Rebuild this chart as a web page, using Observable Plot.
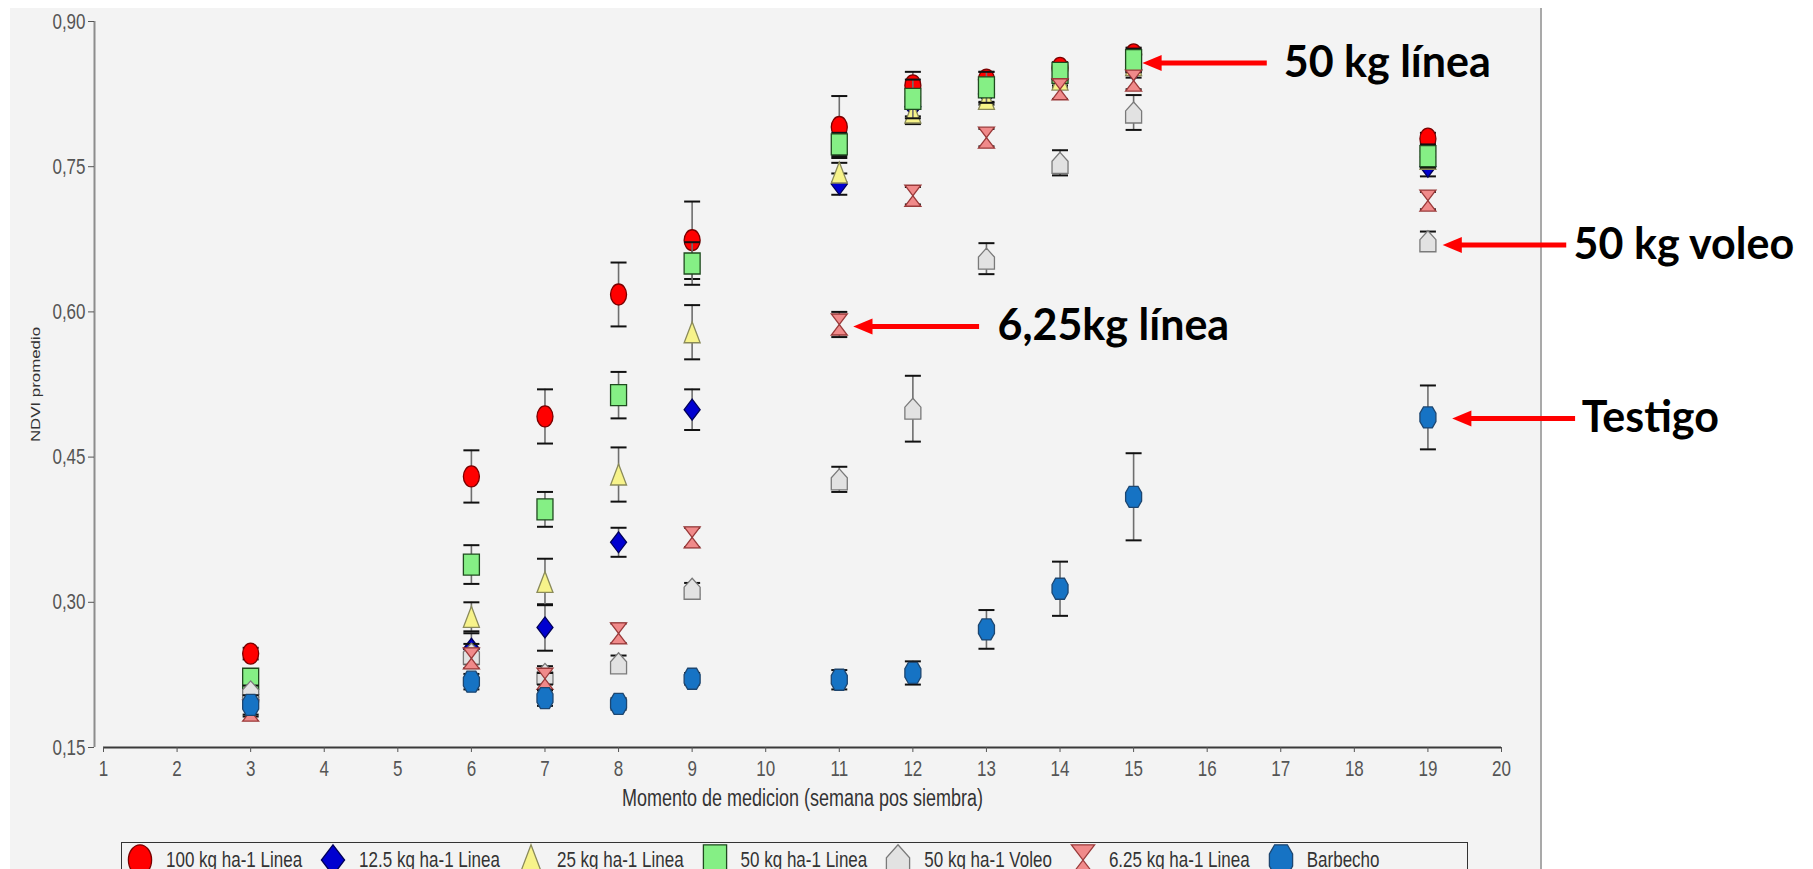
<!DOCTYPE html>
<html><head><meta charset="utf-8">
<script src="https://cdn.jsdelivr.net/npm/d3@7"></script>
<script src="https://cdn.jsdelivr.net/npm/@observablehq/plot@0.6"></script>
<style>
html,body{margin:0;padding:0;width:1813px;height:869px;overflow:hidden;background:#fff;}
#bg{position:absolute;left:10px;top:8px;width:1530px;height:900px;background:#f3f3f3;border-right:2px solid #a9a9a9;}
#chart{position:absolute;left:0;top:0;}
#legend{position:absolute;left:121px;top:842px;height:44px;width:1347px;border:1.5px solid #333;display:flex;align-items:flex-start;padding-left:5px;box-sizing:border-box;
  font-family:'Liberation Sans',Arial,sans-serif;font-size:17px;color:#333;}
#legend .item{display:flex;align-items:center;height:34px;margin-right:18px;}
#legend .item span{margin-left:13px;white-space:nowrap;display:inline-block;transform:scaleY(1.32);}
</style></head>
<body>
<div id="bg"></div>
<div id="chart"></div>
<div id="legend"></div>
<script>
// ---------- data ----------
const weeks = [3, 6, 7, 8, 9, 11, 12, 13, 14, 15, 19];
const xTicks = [1,2,3,4,5,6,7,8,9,10,11,12,13,14,15,16,17,18,19,20];
const yTicks = [0.15, 0.30, 0.45, 0.60, 0.75, 0.90];
const seriesNames = ["100 kg ha-1 Linea","12.5 kg ha-1 Linea","25 kg ha-1 Linea","50 kg ha-1 Linea","50 kg ha-1 Voleo","6.25 kg ha-1 Linea","Barbecho"];

const mean100   = [0.247,0.430,0.492,0.618,0.674,0.791,0.834,0.840,0.852,0.866,0.779];
const err100    = [0.006,0.027,0.028,0.033,0.040,0.032,0.014,0.008,0.006,0.007,0.006];
const mean125   = [0.205,0.252,0.274,0.362,0.499,0.732,0.812,0.825,0.840,0.850,0.750];
const err125    = [0.006,0.016,0.024,0.015,0.021,0.011,0.010,0.008,0.008,0.008,0.010];
const mean25    = [0.213,0.285,0.321,0.432,0.579,0.744,0.806,0.820,0.840,0.855,0.758];
const err25     = [0.006,0.015,0.024,0.028,0.028,0.010,0.012,0.006,0.006,0.008,0.008];
const mean50    = [0.221,0.339,0.396,0.514,0.650,0.773,0.820,0.832,0.847,0.860,0.761];
const err50     = [0.006,0.020,0.018,0.024,0.022,0.012,0.020,0.016,0.010,0.012,0.012];
const meanVoleo = [0.208,0.247,0.226,0.237,0.314,0.427,0.500,0.655,0.754,0.806,0.673];
const errVoleo  = [0.006,0.010,0.008,0.008,0.006,0.013,0.034,0.016,0.013,0.018,0.010];
const mean625   = [0.188,0.242,0.221,0.268,0.367,0.587,0.720,0.780,0.830,0.839,0.715];
const err625    = [0.006,0.010,0.006,0.010,0.010,0.013,0.009,0.009,0.010,0.009,0.009];
const meanBarb  = [0.194,0.218,0.201,0.195,0.221,0.220,0.227,0.272,0.314,0.409,0.491];
const errBarb   = [0.010,0.008,0.008,0.006,0.006,0.010,0.012,0.020,0.028,0.045,0.033];

// annotations: label, arrow tip (x,y), arrow tail x, text start x
const annLabels = ["50 kg línea","50 kg voleo","6,25kg línea","Testigo"];
const annTipX   = [15.12, 19.20, 11.19, 19.33];
const annY      = [0.857, 0.669, 0.585, 0.490];
const annTailX  = [16.81, 20.88, 12.90, 21.00];
const annTextX  = [17.04, 20.98, 13.15, 21.09];

// ---------- styles ----------
const fills   = ["#ff0000","#0000d0","#f7f38a","#85ef85","#e2e2e2","#f08a8a","#1673c4"];
const strokes = ["#7a0000","#00005a","#8a8a5a","#1f4a1f","#7a7a7a","#9a3a3a","#1d4670"];
const kinds   = ["ellipse","diamond","triangle","rect","house","hourglass","hexagon"];

function makeSymbol(kind) {
  return {draw(ctx, size) {
    const r = Math.sqrt(size / Math.PI);
    const w = 0.8 * r, h = 1.05 * r, k = 0.5523;
    switch (kind) {
      case "ellipse":
        ctx.moveTo(0,-h);
        ctx.bezierCurveTo(k*w,-h, w,-k*h, w,0);
        ctx.bezierCurveTo(w,k*h, k*w,h, 0,h);
        ctx.bezierCurveTo(-k*w,h, -w,k*h, -w,0);
        ctx.bezierCurveTo(-w,-k*h, -k*w,-h, 0,-h);
        ctx.closePath(); break;
      case "diamond":
        ctx.moveTo(0,-h); ctx.lineTo(w,0); ctx.lineTo(0,h); ctx.lineTo(-w,0); ctx.closePath(); break;
      case "triangle":
        ctx.moveTo(0,-h); ctx.lineTo(w,h); ctx.lineTo(-w,h); ctx.closePath(); break;
      case "rect":
        ctx.moveTo(-w,-h); ctx.lineTo(w,-h); ctx.lineTo(w,h); ctx.lineTo(-w,h); ctx.closePath(); break;
      case "house":
        ctx.moveTo(0,-h); ctx.lineTo(w,-0.15*h); ctx.lineTo(w,h); ctx.lineTo(-w,h); ctx.lineTo(-w,-0.15*h); ctx.closePath(); break;
      case "hourglass":
        ctx.moveTo(-w,-h); ctx.lineTo(w,-h); ctx.lineTo(-w,h); ctx.lineTo(w,h); ctx.closePath(); break;
      case "hexagon":
        ctx.moveTo(-0.55*w,-h); ctx.lineTo(0.55*w,-h); ctx.lineTo(w,-0.4*h); ctx.lineTo(w,0.4*h);
        ctx.lineTo(0.55*w,h); ctx.lineTo(-0.55*w,h); ctx.lineTo(-w,0.4*h); ctx.lineTo(-w,-0.4*h); ctx.closePath(); break;
    }
  }};
}
const capSymbol = {draw(ctx, size) { const r = Math.sqrt(size/Math.PI); ctx.moveTo(-r,0); ctx.lineTo(r,0); }};
const headSymbol = {draw(ctx, size) { const r = Math.sqrt(size/Math.PI); ctx.moveTo(0,0); ctx.lineTo(2.4*r,-r); ctx.lineTo(2.4*r,r); ctx.closePath(); }};

const means = [mean100, mean125, mean25, mean50, meanVoleo, mean625, meanBarb];
const errs  = [err100, err125, err25, err50, errVoleo, err625, errBarb];

const SANS = "'Liberation Sans', Arial, sans-serif";
const BOLD = "Lato, 'Open Sans', sans-serif";

const marks = [
  Plot.ruleY([0.15], {stroke: "#3a3a3a", strokeWidth: 2}),
  Plot.ruleX([1], {y1: 0.15, y2: 0.90, dx: -9, stroke: "#8c8c8c", strokeWidth: 2}),
  Plot.axisY({ticks: yTicks, tickFormat: d => d.toFixed(2).replace(".", ","), tickSize: 6, tickPadding: 3, dx: -9, label: null, color: "#555", fontSize: 17}),
  Plot.axisX({ticks: xTicks, tickFormat: d => String(d), tickSize: 5, tickPadding: 8, label: null, color: "#555", fontSize: 17}),
  Plot.text(["Momento de medicion (semana pos siembra)"], {frameAnchor: "bottom", dy: 58, fill: "#333", fontSize: 18}),
  Plot.text(["NDVI promedio"], {frameAnchor: "left", textAnchor: "middle", dx: -68, rotate: -90, fill: "#333", fontSize: 12.5})
];

seriesNames.forEach((name, s) => {
  const rows = weeks.map((w, i) => ({week: w, v: means[s][i], lo: means[s][i] - errs[s][i], hi: means[s][i] + errs[s][i]}));
  marks.push(
    Plot.ruleX(rows, {x: "week", y1: "lo", y2: "hi", stroke: "#6e6e6e", strokeWidth: 1.6}),
    Plot.dot(rows, {x: "week", y: "lo", symbol: capSymbol, r: 8, stroke: "#111", strokeWidth: 2, fill: "none"}),
    Plot.dot(rows, {x: "week", y: "hi", symbol: capSymbol, r: 8, stroke: "#111", strokeWidth: 2, fill: "none"}),
    Plot.dot(rows, {x: "week", y: "v", symbol: makeSymbol(kinds[s]), r: 10, fill: fills[s], stroke: strokes[s], strokeWidth: 1.3})
  );
});

const ann = annLabels.map((t, i) => ({label: t, tip: annTipX[i], y: annY[i], tail: annTailX[i], tx: annTextX[i]}));
marks.push(
  Plot.link(ann, {x1: "tail", x2: d => d.tip + 0.15, y1: "y", y2: "y", stroke: "#ff0000", strokeWidth: 5}),
  Plot.dot(ann, {x: "tip", y: "y", symbol: headSymbol, r: 8, fill: "#ff0000", stroke: "none"}),
  Plot.text(ann, {x: "tx", y: "y", text: "label", textAnchor: "start", fontFamily: BOLD, fontWeight: "bold", fontSize: 43, fill: "#000"})
);

const chart = Plot.plot({
  width: 1813, height: 869,
  marginLeft: 103, marginRight: 312, marginTop: 21, marginBottom: 122,
  style: {background: "transparent", fontFamily: SANS, fontSize: "17px", overflow: "visible"},
  x: {domain: [1, 20]},
  y: {domain: [0.15, 0.90]},
  marks
});
document.getElementById("chart").appendChild(chart);

// the source chart was stretched vertically: reproduce the tall, narrow lettering
chart.querySelectorAll("text").forEach(t => {
  const content = t.textContent;
  if (annLabels.includes(content)) return;
  const sc = content === "NDVI promedio" ? "scale(1.35,1)" : "scale(1,1.32)";
  const tr = t.getAttribute("transform") || "";
  t.setAttribute("transform", `${tr} ${sc}`.trim());
});

// ---------- legend ----------
const legend = d3.select("#legend");
seriesNames.forEach((name, s) => {
  const item = legend.append("div").attr("class", "item");
  const svg = item.append("svg").attr("width", 26).attr("height", 34);
  const p = d3.path();
  makeSymbol(kinds[s]).draw(p, Math.PI * 14.5 * 14.5);
  svg.append("path").attr("d", p.toString()).attr("transform", "translate(13,17)")
    .attr("fill", fills[s]).attr("stroke", strokes[s]).attr("stroke-width", 1.3);
  item.append("span").text(name);
});
</script>
</body></html>
